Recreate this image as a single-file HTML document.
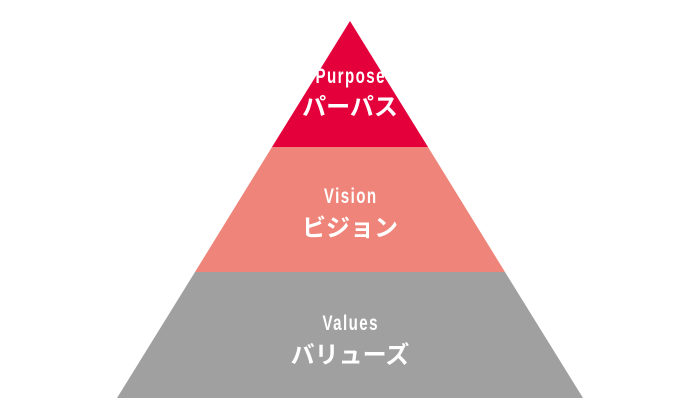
<!DOCTYPE html>
<html><head><meta charset="utf-8"><style>
html,body{margin:0;padding:0;background:#fff;}
svg{display:block}
text{font-family:"Liberation Sans","Noto Sans CJK JP",sans-serif;fill:#fff;font-weight:bold;text-anchor:middle}
.en{letter-spacing:2px}
</style></head><body>
<svg width="700" height="420" viewBox="0 0 700 420">
<polygon points="350,21 428,147 272,147" fill="#e4003b"/>
<polygon points="272,147 428,147 505,272 195,272" fill="#ef857a"/>
<polygon points="195,272 505,272 583,398 117,398" fill="#a0a0a0"/>
<text class="en" x="351" y="83" font-size="21" transform="translate(350,0) scale(0.72,1) translate(-350,0)">Purpose</text>
<text x="350" y="115" font-size="24">パーパス</text>
<text class="en" x="351" y="203" font-size="21" transform="translate(350,0) scale(0.72,1) translate(-350,0)">Vision</text>
<text x="350" y="236" font-size="24">ビジョン</text>
<text class="en" x="351" y="330" font-size="21" transform="translate(350,0) scale(0.72,1) translate(-350,0)">Values</text>
<text x="350" y="363" font-size="24">バリューズ</text>
</svg>
</body></html>
